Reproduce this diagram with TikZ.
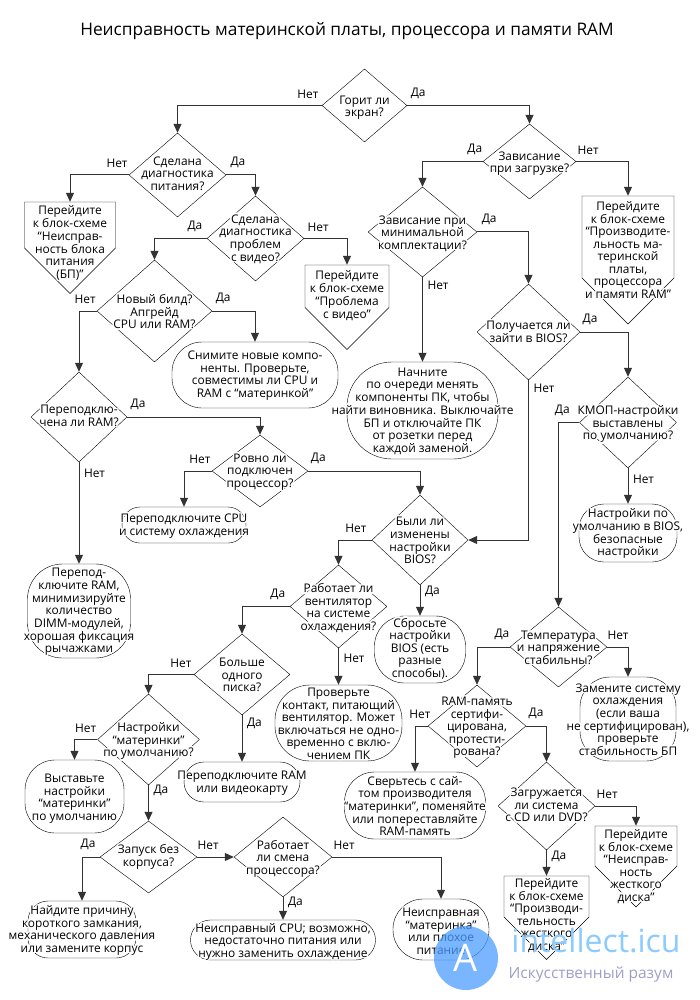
\documentclass[tikz,border=0pt]{standalone}
\usepackage{fontspec}
\usepackage{contour}
\usepackage{xcolor}
\usepackage{tikz}
\usetikzlibrary{shapes.geometric, shapes.symbols, arrows.meta, positioning}
\setmainfont{Open Sans}
\contourlength{1.4pt}
\newcommand{\nodefont}{\fontsize{11.9}{12.5}\selectfont}
\newcommand{\tx}[2][0]{\makebox[0pt]{\smash{\raisebox{\dimexpr#1pt-5.3pt\relax}{\contour{white}{\begin{tabular}[c]{@{}c@{}}#2\end{tabular}}}}}}

\begin{document}
\begin{tikzpicture}[on grid, every node/.style={font=\nodefont},
            decision/.style 2 args={draw, diamond, inner sep=0pt, minimum width=#1, minimum height=#2},
            terminal/.style n args={3}{draw, rectangle, rounded corners=#3, inner sep=0pt, minimum width=#1, minimum height=#2},
            offpage/.style 2 args={draw, signal, signal to=south, signal from=nowhere, signal pointer angle=90, inner sep=0pt, minimum width=#1, minimum height=#2},
            arrow/.style={line width=1pt, draw=black!80, -{Triangle[length=9pt, width=8pt]}},
            answer/.style={inner xsep=4.5pt, inner ysep=6.5pt}]
            \useasboundingbox (0pt,0pt) rectangle (700pt,-1000pt);

            % Title
            \node (title) at (347pt,-31pt) {\fontsize{17.3}{20}\selectfont Неисправность материнской платы, процессора и памяти RAM};

            % Nodes, left branch
            \node (screen) [decision={85pt}{73pt}, below right=74.5pt and 17.5pt of title] {\tx{Горит ли\\экран?}};
            \node (power) [decision={97pt}{84pt}, below left=69.5pt and 187pt of screen] {\tx[2]{Сделана\\диагностика\\питания?}};
            \node (video) [decision={97pt}{85pt}, below right=63.5pt and 78pt of power] {\tx[1]{Сделана\\диагностика\\проблем\\с видео?}};
            \node (psu) [offpage={91pt}{46pt}, below left=50pt and 107.5pt of power] {\tx[-16.5]{Перейдите\\к блок-схеме\\“Неисправ-\\ность блока\\питания\\(БП)”}};
            \node (videochart) [offpage={84pt}{42.5pt}, below right=47.75pt and 91.5pt of video] {\tx[-7.75]{Перейдите\\к блок-схеме\\“Проблема\\с видео”}};
            \node (build) [decision={115pt}{102pt}, below left=72.5pt and 101pt of video] {\tx{Новый билд?\\Апгрейд\\CPU или RAM?}};
            \node (remove) [terminal={166pt}{66pt}{30pt}, below right=64pt and 100.5pt of build] {\tx[1]{Снимите новые компо-\\ненты. Проверьте,\\совместимы ли CPU и\\RAM с “материнкой”}};
            \node (ramcheck) [decision={96pt}{90pt}, below left=106pt and 75.5pt of build] {\tx[2]{Переподклю-\\чена ли RAM?}};
            \node (ramfix) [terminal={103pt}{94pt}{35pt}, below=194pt of ramcheck] {\tx[1]{Перепод-\\ключите RAM,\\минимизируйте\\количество\\DIMM-модулей,\\хорошая фиксация\\рычажками}};
            \node (cpu) [decision={96pt}{72pt}, below right=54pt and 181pt of ramcheck] {\tx[1]{Ровно ли\\подключен\\процессор?}};
            \node (cpufix) [terminal={124pt}{36pt}{18pt}, below left=54pt and 76pt of cpu] {\tx[1]{Переподключите CPU\\и систему охлаждения}};
            \node (biosch) [decision={96pt}{90pt}, below right=69pt and 160pt of cpu] {\tx{Были ли\\изменены\\настройки\\BIOS?}};
            \node (reset) [terminal={91pt}{67pt}{30pt}, below=109.5pt of biosch] {\tx[2]{Сбросьте\\настройки\\BIOS (есть\\разные\\способы).}};
            \node (fan) [decision={97pt}{83pt}, below left=66.5pt and 81.5pt of biosch] {\tx{Работает ли\\вентилятор\\на системе\\охлаждения?}};
            \node (contact) [terminal={127pt}{76pt}{35pt}, below=116.5pt of fan] {\tx{Проверьте\\контакт, питающий\\вентилятор. Может\\включаться не одно-\\временно с вклю-\\чением ПК}};
            \node (beep) [decision={96pt}{81pt}, below left=68pt and 96.5pt of fan] {\tx{Больше\\одного\\писка?}};
            \node (ramvideo) [terminal={116pt}{40pt}{20pt}, below=107.5pt of beep] {\tx[1]{Переподключите RAM\\или видеокарту}};
            \node (boarddef) [decision={102pt}{91pt}, below left=65pt and 93.5pt of beep] {\tx{Настройки\\“материнки”\\по умолчанию?}};
            \node (setdef) [terminal={99pt}{73pt}{30pt}, below left=57pt and 74pt of boarddef] {\tx{Выставьте\\настройки\\“материнки”\\по умолчанию}};
            \node (nocase) [decision={97pt}{72pt}, below=117.5pt of boarddef] {\tx[2]{Запуск без\\корпуса?}};
            \node (shortc) [terminal={108pt}{57pt}{20pt}, below left=72.5pt and 66.5pt of nocase] {\tx[1]{Найдите причину\\короткого замкания,\\механического давления\\или замените корпус}};
            \node (cpuchange) [decision={98pt}{80pt}, right=134.5pt of nocase] {\tx{Работает\\ли смена\\процессора?}};
            \node (badcpu) [terminal={185pt}{40pt}{20pt}, below=83pt of cpuchange] {\tx{Неисправный CPU; возможно,\\недостаточно питания или\\нужно заменить охлаждение}};
            \node (badboard) [terminal={96pt}{61pt}{30pt}, below right=72.5pt and 158pt of cpuchange] {\tx[-1]{Неисправная\\“материнка”\\или плохое\\питание}};

            % Nodes, right branch
            \node (boot) [decision={93pt}{75pt}, below right=56pt and 165pt of screen] {\tx{Зависание\\при загрузке?}};
            \node (minimal) [decision={109pt}{90pt}, below left=70.5pt and 107pt of boot] {\tx{Зависание при\\минимальной\\комплектации?}};
            \node (mbperf) [offpage={92pt}{82pt}, below right=75.5pt and 98.5pt of boot] {\tx[-12.5]{Перейдите\\к блок-схеме\\“Производите-\\льность ма-\\теринской\\платы,\\процессора\\и памяти RAM”}};
            \node (start) [terminal={151pt}{97pt}{45pt}, below=178.5pt of minimal] {\tx[1]{Начните\\по очереди менять\\компоненты ПК, чтобы\\найти виновника. Выключайте\\БП и отключайте ПК\\от розетки перед\\каждой заменой.}};
            \node (biosenter) [decision={103pt}{96pt}, below right=100pt and 106pt of minimal] {\tx[1]{Получается ли\\зайти в BIOS?}};
            \node (cmos) [decision={97pt}{91pt}, below right=90.5pt and 99.5pt of biosenter] {\tx{КМОП-настройки\\выставлены\\по умолчанию?}};
            \node (defaults) [terminal={98pt}{58pt}{25pt}, below=110.5pt of cmos] {\tx[1]{Настройки по\\умолчанию в BIOS,\\безопасные\\настройки}};
            \node (temp) [decision={97pt}{80pt}, below left=224.5pt and 69.5pt of cmos] {\tx{Температура\\и напряжение\\стабильны?}};
            \node (cooling) [terminal={96pt}{84pt}{30pt}, below right=72pt and 69.5pt of temp] {\tx{Замените систему\\охлаждения\\(если ваша\\не сертифицирован),\\проверьте\\стабильность БП}};
            \node (ramcert) [decision={98pt}{82pt}, below left=79pt and 81.5pt of temp] {\tx{RAM-память\\сертифи-\\цирована,\\протести-\\рована?}};
            \node (site) [terminal={141pt}{67pt}{30pt}, below left=79.5pt and 62pt of ramcert] {\tx{Сверьтесь с сай-\\том производителя\\“материнки”, поменяйте\\или попереставляйте\\RAM-память}};
            \node (cdboot) [decision={97pt}{88pt}, below right=80pt and 69.5pt of ramcert] {\tx[1.5]{Загружается\\ли система\\с CD или DVD?}};
            \node (diskfault) [offpage={82pt}{40pt}, below right=40pt and 89.5pt of cdboot] {\tx[-18.8]{Перейдите\\к блок-схеме\\“Неисправ-\\ность\\жесткого\\диска”}};
            \node (diskperf) [offpage={85pt}{41pt}, below=90.5pt of cdboot] {\tx[-17.5]{Перейдите\\к блок-схеме\\“Производи-\\тельность\\жесткого\\диска”}};

            % Arrows
            \draw [arrow] (screen.west) -| node[answer, above, pos=.048] {Нет} (power.north);
            \draw [arrow] (screen.east) -| node[answer, above, pos=.045] {Да} (boot.north);
            \draw [arrow] (power.west) -| node[answer, above, pos=.1] {Нет} (psu.north);
            \draw [arrow] (power.east) -| node[answer, above, pos=.2] {Да} (video.north);
            \draw [arrow] (video.west) -| node[answer, above, pos=.114] {Да} (build.north);
            \draw [arrow] (video.east) -| node[answer, above, pos=.163] {Нет} (videochart.north);
            \draw [arrow] (build.west) -| node[answer, above, pos=.33] {Нет} (ramcheck.north);
            \draw [arrow] (build.east) -| node[answer, above, pos=.128] {Да} (remove.north);
            \draw [arrow] (ramcheck.east) -| node[answer, above, pos=.041] {Да} (cpu.north);
            \draw [arrow] (ramcheck.south) -- node[answer, right, pos=.108] {Нет} (ramfix.north);
            \draw [arrow] (cpu.west) -| node[answer, above, pos=.214] {Нет} (cpufix.north);
            \draw [arrow] (cpu.east) -| node[answer, above, pos=.045] {Да} (biosch.north);

            \draw [arrow] (boot.west) -| node[answer, above, pos=.066] {Да} (minimal.north);
            \draw [arrow] (boot.east) -| node[answer, above, pos=.115] {Нет} (mbperf.north);
            \draw [arrow] (minimal.south) -- node[answer, right, pos=.1] {Нет} (start.north);
            \draw [arrow] (minimal.east) -| node[answer, above, pos=.117] {Да} (biosenter.north);
            \draw [arrow] (biosenter.east) -| node[answer, above, pos=.103] {Да} (cmos.north);
            \draw [arrow] (biosenter.south) |- node[answer, right, pos=.025] {Нет} (biosch.east);
            \draw [arrow] (cmos.west) -| node[answer, above, pos=.41] {Да} (temp.north);
            \draw [arrow] (cmos.south) -- node[answer, right, pos=.3] {Нет} (defaults.north);

            \draw [arrow] (biosch.west) -| node[answer, above, pos=.24] {Нет} (fan.north);
            \draw [arrow] (biosch.south) -- node[answer, right, pos=.2] {Да} (reset.north);
            \draw [arrow] (fan.west) -| node[answer, above, pos=.125] {Да} (beep.north);
            \draw [arrow] (fan.south) -- node[answer, right, pos=.27] {Нет} (contact.north);
            \draw [arrow] (beep.west) -| node[answer, above, pos=.143] {Нет} (boarddef.north);
            \draw [arrow] (beep.south) -- node[answer, right, pos=.17] {Да} (ramvideo.north);
            \draw [arrow] (boarddef.west) -| node[answer, above, pos=.255] {Нет} (setdef.north);
            \draw [arrow] (boarddef.south) -- node[answer, right, pos=.14] {Да} (nocase.north);
            \draw [arrow] (nocase.west) -| node[answer, above, pos=.33] {Да} (shortc.north);
            \draw [arrow] (nocase.east) -- node[answer, above, pos=.3] {Нет} (cpuchange.west);
            \draw [arrow] (cpuchange.south) -- node[answer, right, pos=.22] {Да} (badcpu.north);
            \draw [arrow] (cpuchange.east) -| node[answer, above, pos=.055] {Нет} (badboard.north);

            \draw [arrow] (temp.west) -| node[answer, above, pos=.12] {Да} (ramcert.north);
            \draw [arrow] (temp.east) -| node[answer, above, pos=.26] {Нет} (cooling.north);
            \draw [arrow] (ramcert.west) -| node[answer, above, pos=.31] {Нет} (site.north);
            \draw [arrow] (ramcert.east) -| node[answer, above, pos=.244] {Да} (cdboot.north);
            \draw [arrow] (cdboot.east) -| node[answer, above, pos=.146] {Нет} (diskfault.north);
            \draw [arrow] (cdboot.south) -- node[answer, right, pos=.23] {Да} (diskperf.north);

            % Site logo
            \node (logo) [circle, fill=blue!55!cyan!70, fill opacity=.75, text opacity=1, text=white, minimum size=64pt, below right=28.5pt and 25pt of badboard] {\fontsize{38}{38}\selectfont A};
            \node (logoname) [text=blue!45!cyan!45, below right=-17pt and 130pt of logo] {\fontsize{32}{32}\selectfont intellect.icu};
            \node (logotag) [text=blue!25!gray!60, below right=16pt and 125pt of logo] {\fontsize{15.5}{15.5}\selectfont Искусственный разум};
\end{tikzpicture}
\end{document}
